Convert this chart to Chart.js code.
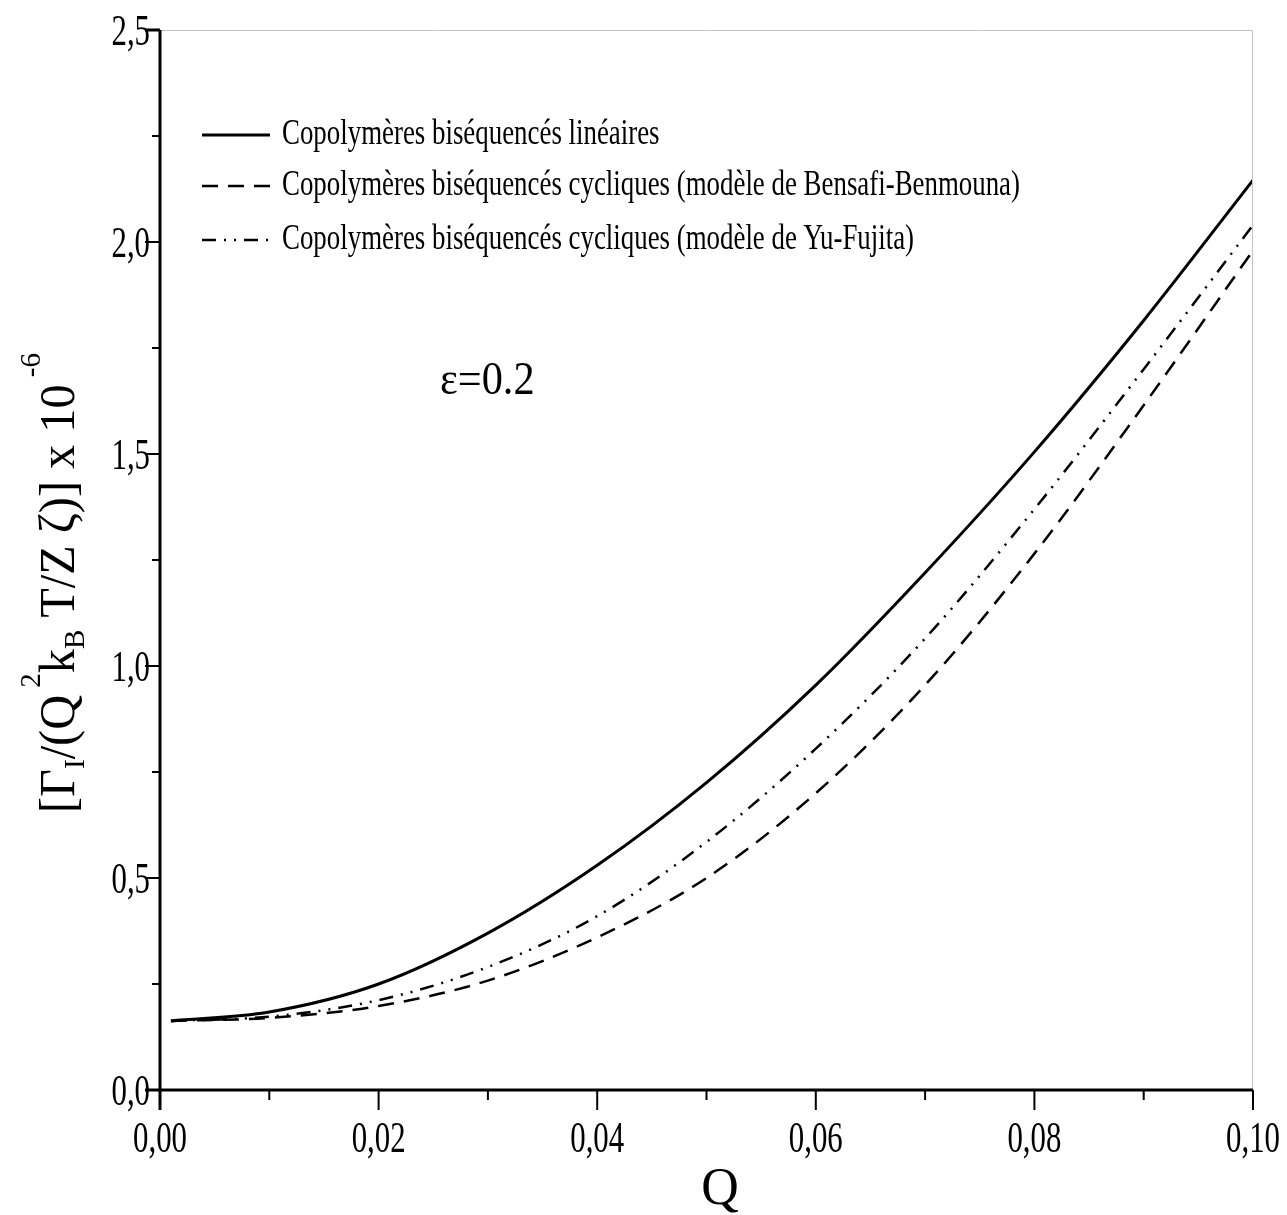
<!DOCTYPE html>
<html>
<head>
<meta charset="utf-8">
<script src="https://cdn.jsdelivr.net/npm/chart.js@4.4.1/dist/chart.umd.min.js"></script>
<style>
  html, body { margin: 0; padding: 0; background: #fff; }
  #wrap { width: 1287px; height: 1215px; position: relative; }
</style>
</head>
<body>
<div id="wrap"><canvas id="graphique"></canvas></div>
<script>
// valeurs
const Q = [0.001, 0.01, 0.02, 0.03, 0.04, 0.05, 0.06, 0.07, 0.08, 0.09, 0.10];
const lineaires = [0.163, 0.184, 0.25, 0.37, 0.53, 0.725, 0.955, 1.22, 1.505, 1.815, 2.146];
const bensafi = [0.163, 0.17, 0.198, 0.258, 0.36, 0.50, 0.70, 0.955, 1.265, 1.615, 1.98];
const yuFujita = [0.163, 0.173, 0.212, 0.29, 0.41, 0.585, 0.805, 1.065, 1.37, 1.70, 2.04];

const legendes = [
  "Copolymères biséquencés linéaires",
  "Copolymères biséquencés cycliques (modèle de Bensafi-Benmouna)",
  "Copolymères biséquencés cycliques (modèle de Yu-Fujita)"
];
const xTicks = [0, 0.02, 0.04, 0.06, 0.08, 0.10];
const yTicks = [0, 0.5, 1.0, 1.5, 2.0, 2.5];

const SERIF = "'Liberation Serif', 'DejaVu Serif', serif";
const tirets = [16, 10];
const tiretPoint = [14, 8, 2, 8, 2, 8];

function pts(ys) {
  return Q.map((q, i) => ({ x: q, y: ys[i] }));
}

// texte condensé, comme sur la figure d'origine
function texteEtroit(ctx, txt, x, y, sx) {
  ctx.save();
  ctx.translate(x, y);
  ctx.scale(sx, 1);
  ctx.fillText(txt, 0, 0);
  ctx.restore();
}

// petits traits, cadre, légende et titres
const decor = {
  id: "decor",
  afterDraw(chart) {
    const ctx = chart.ctx;
    const sx = chart.scales.x, sy = chart.scales.y;
    const a = chart.chartArea;
    ctx.save();

    // cadre haut et droit (gris clair)
    ctx.strokeStyle = "#c4c4c4";
    ctx.lineWidth = 1;
    ctx.beginPath();
    ctx.moveTo(a.left, a.top + 0.5);
    ctx.lineTo(a.right, a.top + 0.5);
    ctx.moveTo(a.right - 0.5, a.top);
    ctx.lineTo(a.right - 0.5, a.bottom);
    ctx.stroke();

    // axes principaux
    ctx.strokeStyle = "#000";
    ctx.lineWidth = 3;
    ctx.beginPath();
    ctx.moveTo(a.left, a.top);
    ctx.lineTo(a.left, a.bottom + 20);
    ctx.moveTo(a.left - 15, a.bottom);
    ctx.lineTo(a.right, a.bottom);
    ctx.moveTo(a.left - 15, a.top);
    ctx.lineTo(a.left, a.top);
    ctx.stroke();

    // graduations
    ctx.lineWidth = 2;
    ctx.beginPath();
    for (let v = 0.01; v < 0.1; v += 0.02) {
      const px = sx.getPixelForValue(v);
      ctx.moveTo(px, a.bottom); ctx.lineTo(px, a.bottom + 10);
    }
    xTicks.forEach(v => {
      const px = sx.getPixelForValue(v);
      ctx.moveTo(px, a.bottom); ctx.lineTo(px, a.bottom + 20);
    });
    for (let v = 0.25; v < 2.5; v += 0.5) {
      const py = sy.getPixelForValue(v);
      ctx.moveTo(a.left - 8, py); ctx.lineTo(a.left, py);
    }
    yTicks.forEach(v => {
      const py = sy.getPixelForValue(v);
      ctx.moveTo(a.left - 15, py); ctx.lineTo(a.left, py);
    });
    ctx.stroke();

    // étiquettes des graduations
    ctx.fillStyle = "#000";
    ctx.font = "44px " + SERIF;
    ctx.textBaseline = "alphabetic";
    ctx.textAlign = "center";
    xTicks.forEach(v => {
      texteEtroit(ctx, v.toFixed(2).replace(".", ","), sx.getPixelForValue(v), a.bottom + 62, 0.7);
    });
    ctx.textAlign = "right";
    yTicks.forEach(v => {
      texteEtroit(ctx, v.toFixed(1).replace(".", ","), a.left - 10, sy.getPixelForValue(v) + 15, 0.7);
    });

    // légende
    ctx.font = "35px " + SERIF;
    ctx.textAlign = "left";
    ctx.textBaseline = "middle";
    const styles = [[], tirets, tiretPoint];
    const largeurs = [3, 2.5, 2.5];
    const yl = [135, 186, 240];
    const scale = 738 / ctx.measureText(legendes[1]).width;
    legendes.forEach((txt, i) => {
      ctx.setLineDash(styles[i]);
      ctx.lineWidth = largeurs[i];
      ctx.beginPath();
      ctx.moveTo(202, yl[i]); ctx.lineTo(270, yl[i]);
      ctx.stroke();
      ctx.setLineDash([]);
      texteEtroit(ctx, txt, 282, yl[i], scale);
    });

    // ε=0.2
    ctx.font = "46px " + SERIF;
    ctx.textBaseline = "alphabetic";
    texteEtroit(ctx, "ε=0.2", 440, 394, 0.92);

    // titre de l'axe x
    ctx.font = "52px " + SERIF;
    ctx.textAlign = "center";
    ctx.fillText("Q", 720, 1204);

    // titre de l'axe y (pivoté, indices et exposants)
    const morceaux = [
      ["[Γ", 0], ["I", 1], ["/(Q", 0], [" 2", -1], ["k", 0], ["B", 1],
      [" T/Z ζ)] x 10", 0], [" -6", -1]
    ];
    ctx.textAlign = "left";
    const grand = "50px " + SERIF, petit = "30px " + SERIF;
    let total = 0;
    morceaux.forEach(([t, k]) => {
      ctx.font = k === 0 ? grand : petit;
      total += ctx.measureText(t).width;
    });
    const sc = 460 / total;
    ctx.save();
    ctx.translate(74, 583);
    ctx.rotate(-Math.PI / 2);
    ctx.scale(sc, 1);
    let x = -total / 2;
    morceaux.forEach(([t, k]) => {
      ctx.font = k === 0 ? grand : petit;
      const dy = k === 1 ? 10 : (k === -1 ? -34 : 0);
      ctx.fillText(t, x, dy);
      x += ctx.measureText(t).width;
    });
    ctx.restore();

    ctx.restore();
  }
};

new Chart(document.getElementById("graphique"), {
  type: "line",
  data: {
    datasets: [
      { label: legendes[0], data: pts(lineaires), borderColor: "#000", borderWidth: 3 },
      { label: legendes[1], data: pts(bensafi), borderColor: "#000", borderWidth: 2.5, borderDash: tirets },
      { label: legendes[2], data: pts(yuFujita), borderColor: "#000", borderWidth: 2.5, borderDash: tiretPoint }
    ]
  },
  options: {
    responsive: true,
    maintainAspectRatio: false,
    animation: false,
    cubicInterpolationMode: "monotone",
    elements: { point: { radius: 0 } },
    layout: { padding: { left: 0, right: 34, top: 30, bottom: 0 } },
    plugins: { legend: { display: false }, tooltip: { enabled: false } },
    scales: {
      x: {
        type: "linear", min: 0, max: 0.1,
        afterFit(s) { s.height = 125; },
        grid: { display: false, drawTicks: false },
        border: { display: false },
        ticks: { display: false }
      },
      y: {
        min: 0, max: 2.5,
        afterFit(s) { s.width = 160; },
        grid: { display: false, drawTicks: false },
        border: { display: false },
        ticks: { display: false }
      }
    }
  },
  plugins: [decor]
});
</script>
</body>
</html>
